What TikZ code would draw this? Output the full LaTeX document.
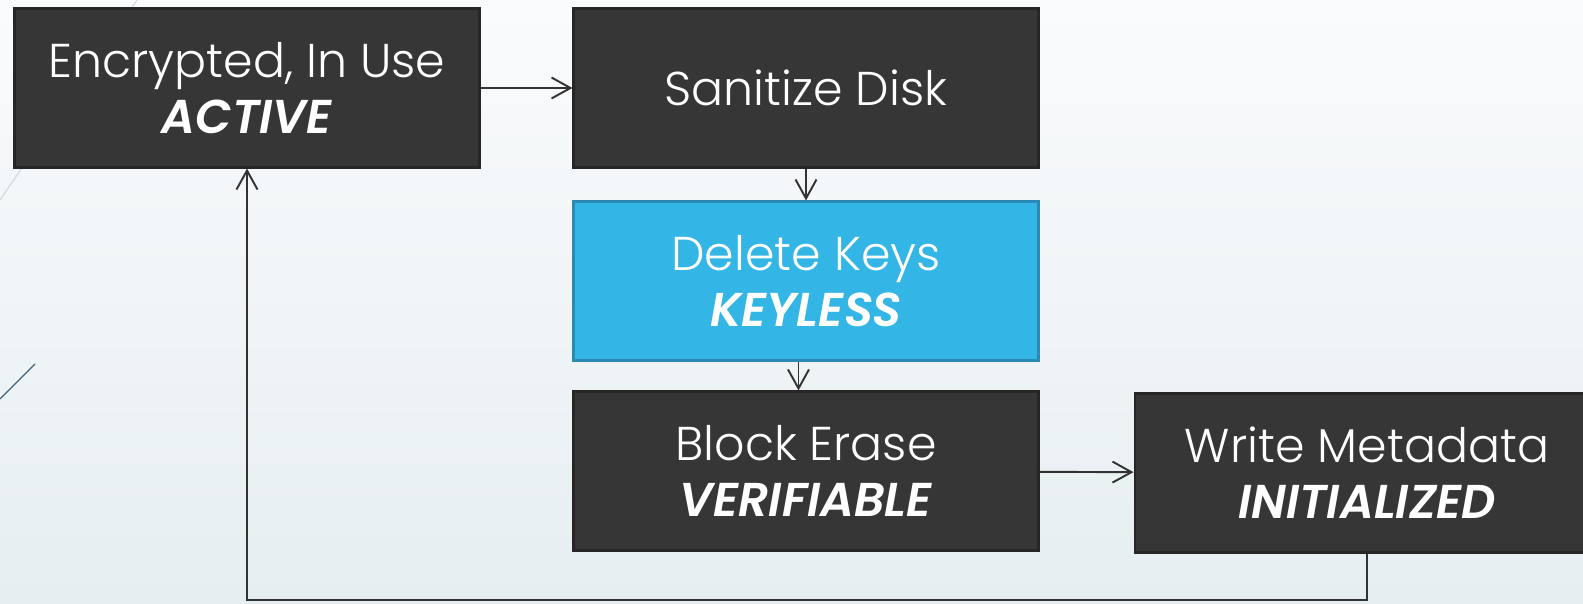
\documentclass[tikz,border=0pt]{standalone}
\usepackage{fontspec}
\setsansfont{Poppins}[UprightFont=* Light, BoldItalicFont=* SemiBold Italic]
\usetikzlibrary{positioning, arrows.meta, calc}

\definecolor{boxdark}{HTML}{363636}
\definecolor{boxedge}{HTML}{262626}
\definecolor{keyblue}{HTML}{33B5E5}
\definecolor{keyedge}{HTML}{2A8AB5}
\definecolor{wire}{HTML}{333333}
\definecolor{bgtop}{HTML}{FAFBFC}
\definecolor{bgbottom}{HTML}{E6EEF1}
\definecolor{facet}{HTML}{44637A}

\begin{document}
\begin{tikzpicture}[
  x=0.02cm, y=-0.02cm,
  font=\sffamily\fontsize{27}{32}\selectfont,
  >={Straight Barb[length=3.8mm, width=4.2mm, line width=1.1pt]},
  stage/.style={draw=boxedge, fill=boxdark, text=white, line width=1.2pt,
    minimum width=9.3cm, minimum height=3.18cm, align=center, inner sep=0pt},
  keystage/.style={stage, draw=keyedge, fill=keyblue},
  arrow/.style={->, draw=wire, line width=1.1pt}
]

% Background and facet lines
\useasboundingbox (0,0) rectangle (1583,604);
\shade[top color=bgtop, bottom color=bgbottom] (0,0) rectangle (1583,604);
\draw[facet!25, line width=0.6pt] (137,0) -- (0,200);
\draw[facet, line width=0.8pt] (0,399) -- (35,364);

% Stages
\node[stage] (active) at (247,88) {Encrypted, In Use\\ \textbf{\textit{ACTIVE}}};
\node[stage] (sanitize) at (806,88) {Sanitize Disk};
\node[keystage] (keys) at (806,281) {Delete Keys\\ \textbf{\textit{KEYLESS}}};
\node[stage] (erase) at (806,471) {Block Erase\\ \textbf{\textit{VERIFIABLE}}};
\node[stage] (meta) at (1367,473) {Write Metadata\\ \textbf{\textit{INITIALIZED}}};

% Flow
\coordinate (floor) at (0,600);
\draw[arrow] (active) -- (sanitize);
\draw[arrow] (sanitize) -- (keys);
\draw[arrow] ([xshift=-0.15cm]keys.south) -- ([xshift=-0.15cm]erase.north);
\draw[arrow] (erase) -- (meta);
\draw[arrow] (meta.south) -- (meta.south |- floor) -| (active.south);

\end{tikzpicture}
\end{document}
